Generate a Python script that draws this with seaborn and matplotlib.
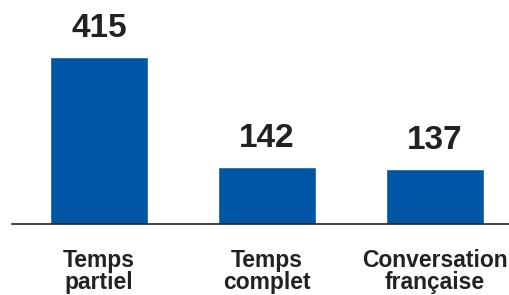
import seaborn as sns
import matplotlib.pyplot as plt
import pandas as pd

# données
categories = ["Temps\npartiel", "Temps\ncomplet", "Conversation\nfrançaise"]
valeurs = [415, 142, 137]

df = pd.DataFrame({"cat": categories, "val": valeurs})

sns.set_theme(style="white")
plt.rcParams['font.family'] = ['Liberation Sans', 'DejaVu Sans']

fig = plt.figure(figsize=(5.1, 2.95), dpi=100)
ax = fig.add_axes([12 / 510, 1 - 224 / 295, 498 / 510, 224 / 295])

sns.barplot(data=df, x="cat", y="val", color="#0055a4", saturation=1,
            width=0.583, ax=ax)

ax.set_xlim(-0.518, 2.446)
ax.set_ylim(0, 556)

# étiquettes de valeur
for c in ax.containers:
    ax.bar_label(c, labels=[str(v) for v in valeurs], padding=9,
                 fontsize=24, fontweight="bold", color="#222222")

ax.set_xlabel("")
ax.set_ylabel("")
ax.set_yticks([])
ax.tick_params(axis="x", length=0, pad=18)
for lab in ax.get_xticklabels():
    lab.set_fontsize(16.5)
    lab.set_fontweight("bold")
    lab.set_color("#222222")
    lab.set_linespacing(0.95)
    lab.set_verticalalignment("top")

for s in ["top", "left", "right"]:
    ax.spines[s].set_visible(False)
ax.spines["bottom"].set_color("#222222")
ax.spines["bottom"].set_linewidth(1.2)

fig.savefig("out.png", dpi=100)
